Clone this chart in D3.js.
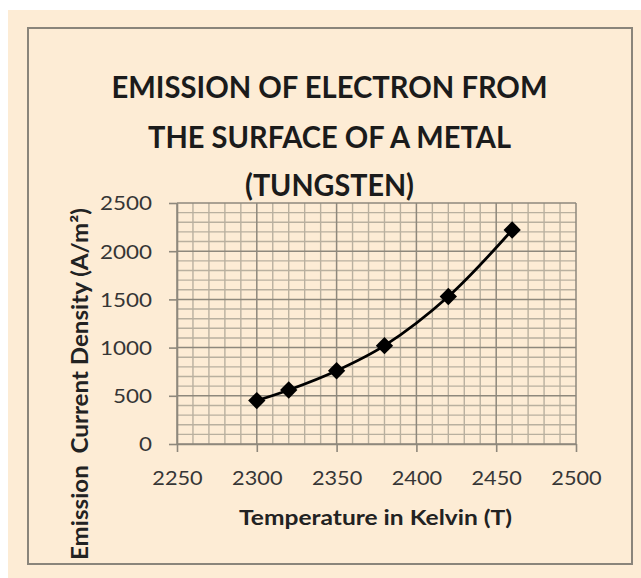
<!DOCTYPE html>
<html><head><meta charset="utf-8">
<script src="https://cdn.jsdelivr.net/npm/d3@7"></script>
<style>html,body{margin:0;padding:0;background:#fff;} svg{display:block}</style>
</head><body><svg id="c" width="641" height="578"></svg>
<script>
// ---- data ----
const temperatures = [2300, 2320, 2350, 2380, 2420, 2460];
const currentDensity = [450, 560, 760, 1020, 1530, 2220];
const xTicks = [2250, 2300, 2350, 2400, 2450, 2500];
const yTicks = [0, 500, 1000, 1500, 2000, 2500];
const titleLines = ["EMISSION OF ELECTRON FROM", "THE SURFACE OF A METAL", "(TUNGSTEN)"];
const xTitle = "Temperature in Kelvin (T)";
const yTitle = "Emission  Current Density (A/m\u00B2)";

// ---- layout ----
const svg = d3.select("#c");
const FONT = "Lato, 'Open Sans', 'DejaVu Sans', sans-serif";
const cream = "#fdecd5";
const majorCol = "#8e887c";
const minorCol = "#b9b09f";

svg.append("rect").attr("x", 8).attr("y", 10).attr("width", 633).attr("height", 568).attr("fill", cream);
svg.append("rect").attr("x", 28).attr("y", 28).attr("width", 604).attr("height", 536)
  .attr("fill", "none").attr("stroke", "#8a857b").attr("stroke-width", 2);

const x = d3.scaleLinear().domain([2250, 2500]).range([177, 576]);
const y = d3.scaleLinear().domain([0, 2500]).range([444, 203]);

// title
const titleW = [436, 363, 169];
const titleY = [98, 148, 196];
svg.append("g").selectAll("text").data(titleLines).join("text")
  .attr("x", 329.5).attr("y", (d, i) => titleY[i])
  .attr("text-anchor", "middle")
  .attr("font-family", FONT).attr("font-weight", "bold").attr("font-size", 30)
  .attr("fill", "#1b1b1b")
  .attr("textLength", (d, i) => titleW[i]).attr("lengthAdjust", "spacingAndGlyphs")
  .text(d => d);

// grid
const grid = svg.append("g");
const minorX = d3.range(2250, 2501, 10).filter(v => !xTicks.includes(v));
const minorY = d3.range(0, 2501, 100).filter(v => !yTicks.includes(v));
grid.selectAll(".mx").data(minorX).join("line")
  .attr("x1", d => x(d)).attr("x2", d => x(d)).attr("y1", y(2500)).attr("y2", y(0))
  .attr("stroke", minorCol).attr("stroke-width", 1.4);
grid.selectAll(".my").data(minorY).join("line")
  .attr("x1", x(2250)).attr("x2", x(2500)).attr("y1", d => y(d)).attr("y2", d => y(d))
  .attr("stroke", minorCol).attr("stroke-width", 1.4);
grid.selectAll(".Mx").data(xTicks).join("line")
  .attr("x1", d => x(d)).attr("x2", d => x(d)).attr("y1", y(2500)).attr("y2", y(0))
  .attr("stroke", majorCol).attr("stroke-width", 1.5);
grid.selectAll(".My").data(yTicks).join("line")
  .attr("x1", x(2250)).attr("x2", x(2500)).attr("y1", d => y(d)).attr("y2", d => y(d))
  .attr("stroke", majorCol).attr("stroke-width", 1.5);

// axes
function styleAxis(g, digitW) {
  g.select(".domain").attr("stroke", majorCol).attr("stroke-width", 1.6);
  g.selectAll(".tick line").attr("stroke", majorCol).attr("stroke-width", 1.6);
  g.selectAll(".tick text")
    .attr("font-family", FONT).attr("font-size", 19).attr("fill", "#363636")
    .attr("textLength", function() { return this.textContent.length * digitW; })
    .attr("lengthAdjust", "spacingAndGlyphs");
}
const xAxis = svg.append("g").attr("transform", `translate(0,${y(0)})`)
  .call(d3.axisBottom(x).tickValues(xTicks).tickSize(8).tickSizeOuter(0).tickPadding(20).tickFormat(d3.format("d")));
styleAxis(xAxis, 12.6);
const yAxis = svg.append("g").attr("transform", `translate(${x(2250)},0)`)
  .call(d3.axisLeft(y).tickValues(yTicks).tickSize(8).tickSizeOuter(0).tickPadding(17).tickFormat(d3.format("d")));
styleAxis(yAxis, 13);
yAxis.selectAll(".tick text").attr("dy", "0.36em");

// axis titles
svg.append("text").attr("x", 375.5).attr("y", 525).attr("text-anchor", "middle")
  .attr("font-family", FONT).attr("font-weight", "bold").attr("font-size", 20).attr("fill", "#222")
  .attr("textLength", 273).attr("lengthAdjust", "spacingAndGlyphs").text(xTitle);
svg.append("text").attr("transform", "translate(88,384) rotate(-90)").attr("text-anchor", "middle")
  .style("white-space", "pre")
  .attr("font-family", FONT).attr("font-weight", "bold").attr("font-size", 22).attr("fill", "#222")
  .attr("textLength", 352).attr("lengthAdjust", "spacingAndGlyphs").text(yTitle);

// series
const pts = temperatures.map((t, i) => [t, currentDensity[i]]);
svg.append("path").datum(pts)
  .attr("d", d3.line().x(d => x(d[0])).y(d => y(d[1])).curve(d3.curveCatmullRom.alpha(0.5)))
  .attr("fill", "none").attr("stroke", "#000").attr("stroke-width", 2.8);
svg.append("g").selectAll("path").data(pts).join("path")
  .attr("transform", d => `translate(${x(d[0])},${y(d[1])}) rotate(45)`)
  .attr("d", d3.symbol(d3.symbolSquare, 150)())
  .attr("fill", "#000");
</script></body></html>
